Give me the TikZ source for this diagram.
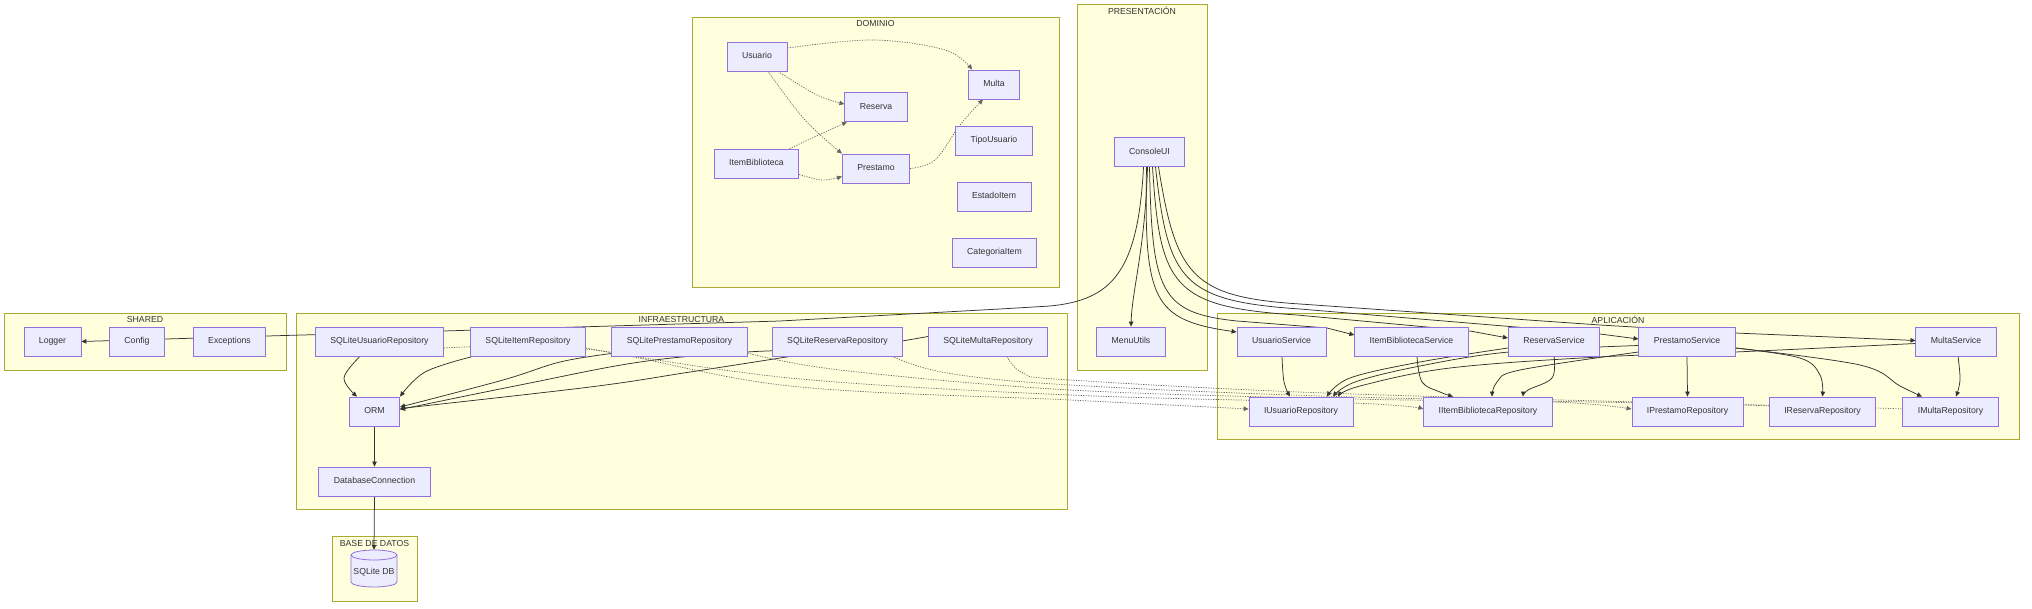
\documentclass[tikz,border=0pt]{standalone}
\usepackage{fontspec}
\setmainfont{Liberation Sans}
\usetikzlibrary{arrows.meta,calc}
\definecolor{nfill}{HTML}{ECECFF}
\definecolor{nborder}{HTML}{9370DB}
\definecolor{cfill}{HTML}{FFFFDE}
\definecolor{cborder}{HTML}{AAAA33}
\definecolor{ink}{HTML}{333333}
\pgfdeclarelayer{clusters}
\pgfdeclarelayer{edges}
\pgfsetlayers{clusters,edges,main}
\tikzset{
  box/.style={draw=nborder, fill=nfill, line width=0.8pt, minimum height=29pt, inner xsep=15pt, inner ysep=0pt, text height=6.4pt, text depth=1.8pt, text=ink, font=\fontsize{8.7}{10}\selectfont},
  cluster/.style={draw=cborder, fill=cfill, line width=0.8pt, inner sep=0pt, outer sep=0pt, anchor=north west},
  ctitle/.style={text=ink, font=\fontsize{8.7}{10}\selectfont, inner sep=0pt},
  flow/.style={draw=ink, line width=0.75pt, -{Triangle[length=5pt,width=4.5pt]}},
  dep/.style={draw=ink!75, line width=0.7pt, dash pattern=on 1.2pt off 1.3pt, -{Triangle[length=5pt,width=4.5pt]}},
}
\begin{document}
\begin{tikzpicture}[x=1pt,y=-1pt]
% clusters
\begin{pgfonlayer}{clusters}
\fill[white] (0,0) rectangle (2032,608);
\node[cluster, minimum width=367pt, minimum height=270pt] (kdom) at (692,17) {};
\node[cluster, minimum width=130pt, minimum height=366pt] (kpre) at (1077,4) {};
\node[cluster, minimum width=282pt, minimum height=57pt] (kshr) at (4,313) {};
\node[cluster, minimum width=771pt, minimum height=196pt] (kinf) at (296,313) {};
\node[cluster, minimum width=85pt, minimum height=65pt] (kbd) at (332,536) {};
\node[cluster, minimum width=802pt, minimum height=126pt] (kapp) at (1217,313) {};
\end{pgfonlayer}
\useasboundingbox (0,0) rectangle (2032,608);
\node[ctitle] (tdom) at (875.5,24) {DOMINIO};
\node[ctitle] (tpre) at (1142,11) {PRESENTACIÓN};
\node[ctitle] (tshr) at (145,320) {SHARED};
\node[ctitle] (tinf) at (681.5,320) {INFRAESTRUCTURA};
\node[ctitle] (tbd) at (374.5,543) {BASE DE DATOS};
\node[ctitle] (tapp) at (1618,320) {APLICACIÓN};
% nodes
\node[box] (usu) at (757,56.5) {Usuario};
\node[box] (res) at (876,107) {Reserva};
\node[box] (mul) at (994,84.5) {Multa};
\node[box] (ibib) at (756.5,163.5) {ItemBiblioteca};
\node[box] (pre) at (876,168.5) {Prestamo};
\node[box] (tipo) at (994,140.5) {TipoUsuario};
\node[box] (est) at (994,196.5) {EstadoItem};
\node[box] (cat) at (994.5,252.5) {CategoriaItem};
\node[box] (cui) at (1149.5,152) {ConsoleUI};
\node[box] (menu) at (1131,341.5) {MenuUtils};
\node[box] (log) at (52.5,341.5) {Logger};
\node[box] (cfg) at (137,341.5) {Config};
\node[box] (exc) at (229.5,341.5) {Exceptions};
\node[box] (sur) at (379.5,341.5) {SQLiteUsuarioRepository};
\node[box] (sir) at (528,341.5) {SQLiteItemRepository};
\node[box] (spr) at (679.5,341.5) {SQLitePrestamoRepository};
\node[box] (srr) at (837.5,341.5) {SQLiteReservaRepository};
\node[box] (smr) at (988,341.5) {SQLiteMultaRepository};
\node[box] (orm) at (374.5,411.5) {ORM};
\node[box] (dbc) at (374.5,481.5) {DatabaseConnection};
\node[box] (usvc) at (1281.5,341.5) {UsuarioService};
\node[box] (isvc) at (1411.5,341.5) {ItemBibliotecaService};
\node[box] (rsvc) at (1554,341.5) {ReservaService};
\node[box] (psvc) at (1687,341.5) {PrestamoService};
\node[box] (msvc) at (1956,341.5) {MultaService};
\node[box] (iur) at (1301,411.5) {IUsuarioRepository};
\node[box] (iir) at (1488,411.5) {IItemBibliotecaRepository};
\node[box] (ipr) at (1687.5,411.5) {IPrestamoRepository};
\node[box] (irr) at (1822.5,411.5) {IReservaRepository};
\node[box] (imr) at (1950.5,411.5) {IMultaRepository};
% database cylinder
\path[draw=nborder, fill=nfill, line width=0.8pt] (351,555) -- (351,582)
  arc[start angle=180, end angle=360, x radius=23pt, y radius=5pt] -- (397,555)
  arc[start angle=0, end angle=180, x radius=23pt, y radius=5pt] -- cycle;
\draw[nborder, line width=0.8pt] (351,555) arc[start angle=180, end angle=360, x radius=23pt, y radius=5pt];
\node[minimum width=46pt, minimum height=37pt, inner sep=0pt] (db) at (374,568.5) {};
\node[text=ink, font=\fontsize{8.7}{10}\selectfont, inner sep=0pt] (dbl) at (374,572.5) {SQLite DB};
% edges
\begin{pgfonlayer}{edges}
% domain
\draw[dep] plot[smooth,tension=.6] coordinates {([yshift=8.5pt]usu.east) (873,40) (945,50) ([xshift=-22pt]mul.north)};
\draw[dep] plot[smooth,tension=.6] coordinates {([xshift=21pt]usu.south) (817,95) ([yshift=3pt]res.west)};
\draw[dep] plot[smooth,tension=.6] coordinates {([xshift=11pt]usu.south) (805,120) (pre.north west)};
\draw[dep] plot[smooth,tension=.6] coordinates {([xshift=33pt]ibib.north) (823,133) ([xshift=-29pt]res.south)};
\draw[dep] plot[smooth,tension=.6] coordinates {([yshift=-11pt]ibib.east) (822,180) ([yshift=-8pt]pre.west)};
\draw[dep] plot[smooth,tension=.6] coordinates {(pre.east) (935,160) (960,125) ([xshift=-11pt]mul.south)};
% presentation
\draw[flow] ([xshift=-2pt]cui.south) .. controls (1145,250) and (1132,290) .. (menu.north);
\draw[flow] ([xshift=-6pt]cui.south) .. controls (1138,272) and (1112,300) .. (1050,306) -- (1000,309) -- (780,321) -- (443,331) -- (267,336) -- (166,339) -- (log.east);
\draw[flow] ([xshift=-3pt]cui.south) .. controls (1144,300) and (1152,320) .. ([yshift=9.5pt]usvc.west);
\draw[flow] (cui.south) .. controls (1152,292) and (1160,313) .. (1237,321) -- (1327,328) -- ([yshift=6.5pt]isvc.west);
\draw[flow] ([xshift=3pt]cui.south) .. controls (1160,286) and (1172,307) .. (1297,315) -- (1470,331) -- ([yshift=3.5pt]rsvc.west);
\draw[flow] ([xshift=6pt]cui.south) .. controls (1168,281) and (1182,301) .. (1300,309) -- (1600,334) -- ([yshift=2.5pt]psvc.west);
\draw[flow] ([xshift=9pt]cui.south) .. controls (1176,276) and (1192,297) .. (1300,304) -- (1600,325) -- (1735,333) -- ([yshift=1pt]msvc.west);
% application
\draw[flow] plot[smooth,tension=.6] coordinates {([xshift=0.5pt]usvc.south) (1284,382) ([xshift=-11pt]iur.north)};
\draw[flow] plot[smooth,tension=.6] coordinates {([xshift=5.5pt]isvc.south) (1422,382) (1440,392) ([xshift=-35pt]iir.north)};
\draw[flow] plot[smooth,tension=.6] coordinates {(rsvc.south) (1552,378) (1528,390) ([xshift=35pt]iir.north)};
\draw[flow] plot[smooth,tension=.6] coordinates {([yshift=-10.5pt]psvc.west) (1520,370) (1497,382) ([xshift=4pt]iir.north)};
\draw[flow] plot[smooth,tension=.6] coordinates {([yshift=-6.5pt]rsvc.west) (1420,362) (1350,378) ([xshift=26pt]iur.north)};
\draw[flow] plot[smooth,tension=.6] coordinates {([yshift=-4pt]psvc.west) (1509,352) (1420,366) (1355,382) ([xshift=32pt]iur.north)};
\draw[flow] plot[smooth,tension=.6] coordinates {([yshift=-2pt]msvc.west) (1735,352) (1599,357) (1450,368) (1360,386) ([xshift=37pt]iur.north)};
\draw[flow] (psvc.south) -- (ipr.north);
\draw[flow] plot[smooth,tension=.6] coordinates {([yshift=-6.5pt]psvc.east) (1800,358) (1820,375) (irr.north)};
\draw[flow] plot[smooth,tension=.6] coordinates {([yshift=-6.5pt]psvc.east) (1860,365) (1900,386) ([xshift=-28.5pt]imr.north)};
\draw[flow] plot[smooth,tension=.6] coordinates {([xshift=2pt]msvc.south) (1960,380) ([xshift=5.5pt]imr.north)};
% infrastructure
\draw[flow] plot[smooth,tension=.6] coordinates {([xshift=-19.5pt]sur.south) (344,378) ([xshift=-17.5pt]orm.north)};
\draw[flow] plot[smooth,tension=.6] coordinates {([xshift=-55pt]sir.south) (425,372) (orm.north east)};
\draw[flow] plot[smooth,tension=.6] coordinates {([yshift=-12pt]spr.west) (560,362) (503,380) ([yshift=4.5pt]orm.east)};
\draw[flow] plot[smooth,tension=.6] coordinates {([xshift=-47pt]srr.south) (690,372) (590,387) ([yshift=3pt]orm.east)};
\draw[flow] plot[smooth,tension=.6] coordinates {([yshift=5pt]smr.west) (850,348) (747,352) (640,362) (520,385) ([yshift=2pt]orm.east)};
\draw[flow] (orm.south) -- (dbc.north);
\draw[flow] (dbc.south) -- (db.north);
% implementations
\draw[dep] plot[smooth,tension=.6] coordinates {([yshift=-6.5pt]sur.east) (586,349) (790,386) (1070,400) ([yshift=2.5pt]iur.west)};
\draw[dep] plot[smooth,tension=.6] coordinates {([yshift=-6.5pt]sir.east) (790,378) (1070,395) (1353,403) ([yshift=2.5pt]iir.west)};
\draw[dep] plot[smooth,tension=.6] coordinates {([yshift=-11.5pt]spr.east) (840,370) (1070,390) (1353,399) (1554,402) ([yshift=2.5pt]ipr.west)};
\draw[dep] plot[smooth,tension=.6] coordinates {([xshift=54.5pt]srr.south) (947,373) (1070,385) (1353,397) (1743,405) ([yshift=2.5pt]irr.west)};
\draw[dep] plot[smooth,tension=.6] coordinates {([xshift=19pt]smr.south) (1023,373) (1070,380) (1353,394) (1875,408) ([yshift=1.5pt]imr.west)};
\end{pgfonlayer}
\end{tikzpicture}
\end{document}
